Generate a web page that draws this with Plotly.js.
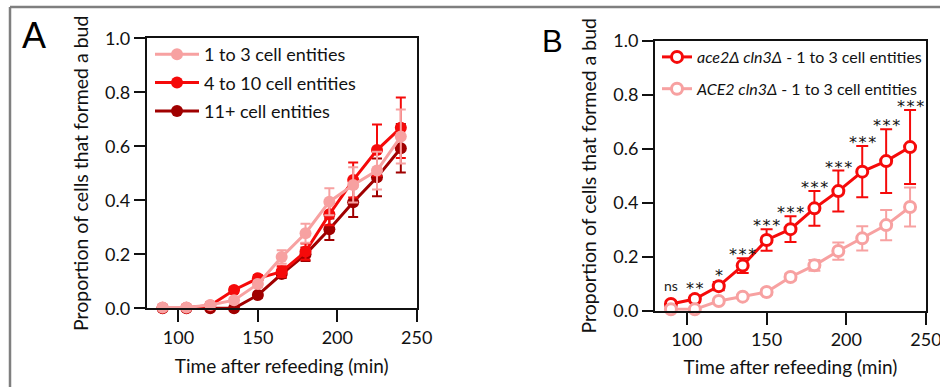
<!DOCTYPE html>
<html>
<head>
<meta charset="utf-8">
<script src="https://cdn.plot.ly/plotly-3.0.1.min.js"></script>
<style>html,body{margin:0;padding:0;background:#fff;}#chart{width:940px;height:387px;}</style>
</head>
<body>
<div id="chart"></div>
<script>
// ---- data ----
const times = [90, 105, 120, 135, 150, 165, 180, 195, 210, 225, 240];

// Panel A
const a1to3     = [0.003, 0.003, 0.012, 0.030, 0.090, 0.190, 0.278, 0.395, 0.457, 0.510, 0.636];
const a1to3Err  = [0.004, 0.004, 0.006, 0.008, 0.012, 0.025, 0.035, 0.050, 0.065, 0.070, 0.100];
const a4to10    = [0.002, 0.002, 0.010, 0.068, 0.111, 0.136, 0.210, 0.348, 0.475, 0.586, 0.669];
const a4to10Err = [0.003, 0.003, 0.005, 0.010, 0.012, 0.020, 0.030, 0.040, 0.065, 0.095, 0.112];
const a11plus   = [0.000, 0.000, 0.000, 0.000, 0.049, 0.127, 0.200, 0.293, 0.393, 0.485, 0.593];
const a11Err    = [0.002, 0.002, 0.003, 0.004, 0.010, 0.015, 0.025, 0.040, 0.055, 0.070, 0.090];

// Panel B
const bAce2del    = [0.025, 0.043, 0.091, 0.167, 0.262, 0.302, 0.379, 0.443, 0.515, 0.554, 0.606];
const bAce2delErr = [0.010, 0.012, 0.015, 0.027, 0.040, 0.048, 0.064, 0.076, 0.095, 0.118, 0.137];
const bACE2       = [0.005, 0.005, 0.036, 0.052, 0.069, 0.125, 0.168, 0.221, 0.268, 0.317, 0.384];
const bACE2Err    = [0.004, 0.005, 0.006, 0.007, 0.010, 0.012, 0.020, 0.032, 0.045, 0.056, 0.072];
const sigLabels   = ['ns', '**', '*', '***', '***', '***', '***', '***', '***', '***', '***'];

const xTicks = [100, 150, 200, 250];
const yTicks = [0, 0.2, 0.4, 0.6, 0.8, 1.0];

// ---- styles ----
const PINK = '#F7A1A1', RED = '#F50A0A', DARK = '#A00000';
const FONT = 'Lato, "Open Sans", sans-serif';

function filledTrace(name, y, err, color, rank) {
  return {
    x: times, y: y, name: name, type: 'scatter', mode: 'lines+markers',
    xaxis: 'x', yaxis: 'y', legend: 'legend', legendgroup: name, legendrank: rank,
    line: {color: color, width: 3},
    marker: {color: color, size: 12, symbol: 'circle'},
    error_y: {type: 'data', array: err, visible: true, color: color, thickness: 2, width: 5},
    cliponaxis: false
  };
}
function openTrace(name, y, err, color, rank) {
  return {
    x: times, y: y, name: name, type: 'scatter', mode: 'lines+markers',
    xaxis: 'x2', yaxis: 'y2', legend: 'legend2', legendgroup: name, legendrank: rank,
    line: {color: color, width: 3},
    marker: {color: '#ffffff', size: 11, symbol: 'circle', line: {color: color, width: 3}},
    error_y: {type: 'data', array: err, visible: true, color: color, thickness: 2, width: 6},
    cliponaxis: false
  };
}

const traces = [
  filledTrace('11+ cell entities', a11plus, a11Err, DARK, 3),
  filledTrace('4 to 10 cell entities', a4to10, a4to10Err, RED, 2),
  filledTrace('1 to 3 cell entities', a1to3, a1to3Err, PINK, 1),
  openTrace('<i>ace2Δ cln3Δ</i> - 1 to 3 cell entities', bAce2del, bAce2delErr, RED, 1),
  openTrace('<i>ACE2 cln3Δ</i> - 1 to 3 cell entities', bACE2, bACE2Err, PINK, 2)
];

// significance labels above the ace2Δ series (stars spaced with hair spaces)
const sigAnn = times.map((t, i) => {
  const isNs = sigLabels[i] === 'ns';
  return {
    x: t, y: Math.max(bAce2del[i] + bAce2delErr[i], bAce2del[i] + 0.026),
    xref: 'x2', yref: 'y2', text: isNs ? sigLabels[i] : sigLabels[i].split('').join('\u200A'),
    showarrow: false, yanchor: 'bottom', yshift: isNs ? 1 : -8,
    font: isNs ? {family: FONT, size: 14, color: '#222'}
               : {family: '"DejaVu Sans", sans-serif', size: 16, color: '#111'}
  };
});

function xAxis(domain, anchor, standoff) {
  return {
    domain: domain, anchor: anchor, range: [80, 250], tickvals: xTicks,
    showline: true, linecolor: '#111', linewidth: 2, mirror: true,
    ticks: 'outside', ticklen: 12, tickwidth: 2, tickcolor: '#111',
    showgrid: false, zeroline: false, ticklabeloverflow: 'allow',
    tickfont: {family: FONT, size: 18, color: '#111'},
    title: {text: 'Time after refeeding (min)', standoff: standoff,
            font: {family: FONT, size: 19, color: '#111'}}
  };
}
function yAxis(domain, anchor) {
  return {
    domain: domain, anchor: anchor, range: [0, 1], tickvals: yTicks, tickformat: '.1f',
    showline: true, linecolor: '#111', linewidth: 2, mirror: true,
    ticks: 'outside', ticklen: 11, tickwidth: 2, tickcolor: '#111',
    showgrid: false, zeroline: false,
    tickfont: {family: FONT, size: 18, color: '#111'},
    title: {text: 'Proportion of cells that formed a bud', standoff: 11,
            font: {family: FONT, size: 19.5, color: '#111'}}
  };
}

const W = 940, H = 387;
const layout = {
  width: W, height: H,
  margin: {l: 0, r: 0, t: 0, b: 0},
  paper_bgcolor: '#fff', plot_bgcolor: '#fff',
  showlegend: true,
  xaxis: xAxis([146.7 / W, 416.7 / W], 'y', 13),
  yaxis: yAxis([1 - 308.3 / H, 1 - 38.3 / H], 'x'),
  xaxis2: xAxis([655 / W, 926 / W], 'y2', 11),
  yaxis2: yAxis([1 - 310.7 / H, 1 - 40.7 / H], 'x2'),
  legend: {
    x: 150 / W, y: 1 - 36 / H, xanchor: 'left', yanchor: 'top',
    bgcolor: 'rgba(0,0,0,0)', traceorder: 'grouped', tracegroupgap: 2,
    itemwidth: 44, font: {family: FONT, size: 18, color: '#111'}
  },
  legend2: {
    x: 657 / W, y: 1 - 40 / H, xanchor: 'left', yanchor: 'top',
    bgcolor: 'rgba(0,0,0,0)', traceorder: 'grouped', tracegroupgap: 8,
    itemwidth: 30, font: {family: FONT, size: 16, color: '#111'}
  },
  annotations: [
    {text: 'A', x: 34 / W, y: 1 - 36 / H, xref: 'paper', yref: 'paper', showarrow: false,
     xanchor: 'center', yanchor: 'middle', font: {family: '"Liberation Sans", Arial, sans-serif', size: 36, color: '#000'}},
    {text: 'B', x: 552 / W, y: 1 - 42 / H, xref: 'paper', yref: 'paper', showarrow: false,
     xanchor: 'center', yanchor: 'middle', font: {family: '"Liberation Sans", Arial, sans-serif', size: 31, color: '#000'}}
  ].concat(sigAnn),
  shapes: [
    {type: 'line', xref: 'paper', yref: 'paper', x0: 10 / W, x1: 1, y0: 1 - 7 / H, y1: 1 - 7 / H,
     line: {color: '#7f7f7f', width: 2.5}},
    {type: 'line', xref: 'paper', yref: 'paper', x0: 10 / W, x1: 10 / W, y0: 0, y1: 1 - 7 / H,
     line: {color: '#7f7f7f', width: 2.5}}
  ]
};

Plotly.newPlot('chart', traces, layout, {displayModeBar: false, staticPlot: true});
</script>
</body>
</html>
